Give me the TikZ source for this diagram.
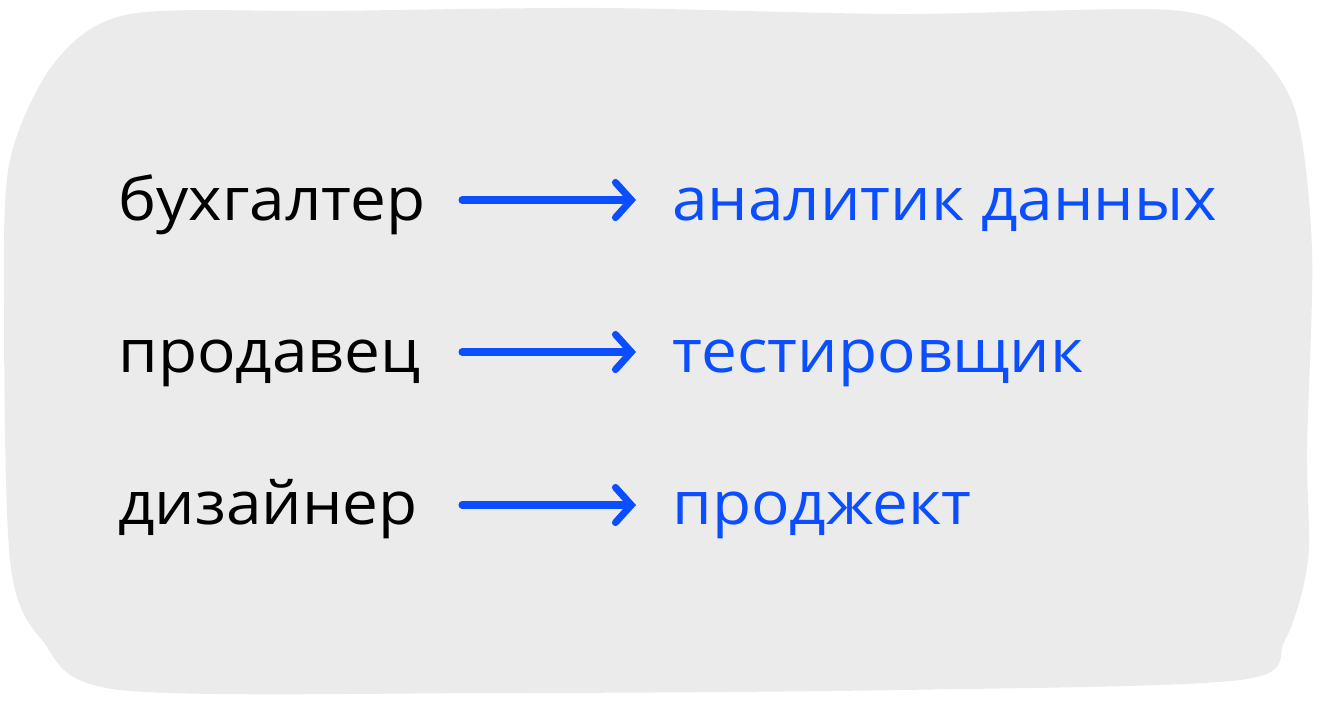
\documentclass[tikz,border=0pt]{standalone}
\usepackage{fontspec}
\setmainfont{Open Sans}[FakeStretch=1.07]
\usetikzlibrary{arrows.meta,positioning}
\definecolor{blobgrey}{HTML}{EBEBEB}
\definecolor{jobblue}{HTML}{0A4EFF}
\begin{document}
\begin{tikzpicture}[x=0.02cm,y=-0.02cm,
	oldjob/.style={anchor=base west,inner sep=0pt,font=\fontsize{34}{40}\selectfont},
	newjob/.style={oldjob,text=jobblue},
	move/.style={jobblue,line width=4pt,line cap=round,-{Straight Barb[length=9pt,width=20pt,line cap=round]}}]
	\useasboundingbox (0,0) rectangle (1321,707);
	% background blob
	\fill[blobgrey] plot[smooth cycle,tension=0.5] coordinates {(130,14) (330,11) (600,8) (900,14)
		(1170,10) (1245,40) (1295,110) (1312,250) (1307,450) (1308,560) (1285,640) (1240,680)
		(900,690) (500,693) (120,690) (42,640) (10,560) (4,300) (10,160) (55,62)};
	\node[oldjob] (buh) at (118,220) {бухгалтер};
	\node[oldjob] (prod) at (118,372) {продавец};
	\node[oldjob] (diz) at (118,524) {дизайнер};
	\node[newjob] (anal) at (672,220) {аналитик данных};
	\node[newjob] (test) at (672,372) {тестировщик};
	\node[newjob] (pm) at (672,524) {проджект};
	\coordinate (s1) at (462,200); \coordinate (e1) at (636,200);
	\coordinate (s2) at (462,352); \coordinate (e2) at (636,352);
	\coordinate (s3) at (462,505); \coordinate (e3) at (636,505);
	\draw[move] (s1) -- (e1);
	\draw[move] (s2) -- (e2);
	\draw[move] (s3) -- (e3);
\end{tikzpicture}
\end{document}
